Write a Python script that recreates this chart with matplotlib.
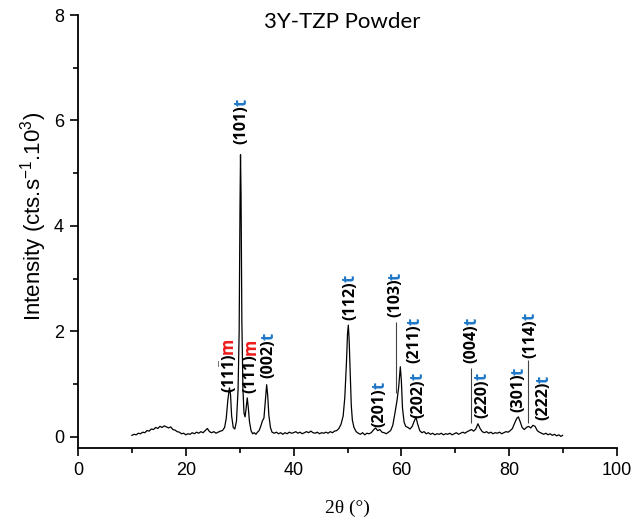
import matplotlib
matplotlib.use("Agg")
import matplotlib.pyplot as plt
from matplotlib.ticker import MultipleLocator

plt.rcParams['mathtext.fontset'] = 'custom'
plt.rcParams['mathtext.rm'] = 'Liberation Sans'
plt.rcParams['mathtext.it'] = 'Liberation Sans:italic'
plt.rcParams['mathtext.bf'] = 'Open Sans:bold'

# ---- data (2theta in degrees, intensity in 10^3 counts/s) ----
two_theta = [
    10.0, 10.4, 10.8, 11.2, 11.6, 12.0, 12.4, 12.8, 13.2, 13.6, 14.0, 14.4, 14.8,
    15.2, 15.6, 16.0, 16.4, 16.8, 17.2, 17.6, 18.0, 18.4, 18.8, 19.2, 19.6, 20.0,
    20.4, 20.8, 21.2, 21.6, 22.0, 22.4, 22.8, 23.2, 23.6, 24.0, 24.4, 24.8, 25.2,
    25.6, 26.0, 26.4, 26.8, 27.2, 27.5, 27.8, 28.1, 28.3, 28.5, 28.8, 29.1, 29.4,
    29.7, 29.9, 30.05, 30.15, 30.25, 30.4, 30.6, 30.8, 31.0, 31.2, 31.4, 31.6,
    31.8, 32.1, 32.4, 32.7, 33.0, 33.3, 33.6, 33.9, 34.2, 34.5, 34.8, 35.0, 35.2,
    35.4, 35.7, 36.0, 36.4, 36.8, 37.2, 37.6, 38.0, 38.4, 38.8, 39.2, 39.6, 40.0,
    40.4, 40.8, 41.2, 41.6, 42.0, 42.4, 42.8, 43.2, 43.6, 44.0, 44.4, 44.8, 45.2,
    45.6, 46.0, 46.4, 46.8, 47.2, 47.6, 48.0, 48.4, 48.8, 49.2, 49.5, 49.8, 50.0,
    50.15, 50.3, 50.5, 50.7, 50.9, 51.2, 51.6, 52.0, 52.4, 52.8, 53.2, 53.6, 54.0,
    54.4, 54.8, 55.2, 55.6, 56.0, 56.4, 56.8, 57.2, 57.6, 58.0, 58.4, 58.8, 59.2,
    59.5, 59.8, 60.0, 60.2, 60.5, 60.8, 61.2, 61.6, 62.0, 62.4, 62.7, 63.0, 63.4,
    63.8, 64.2, 64.6, 65.0, 65.4, 65.8, 66.2, 66.6, 67.0, 67.4, 67.8, 68.2, 68.6,
    69.0, 69.4, 69.8, 70.2, 70.6, 71.0, 71.4, 71.8, 72.2, 72.6, 73.0, 73.4, 73.8,
    74.2, 74.6, 75.0, 75.4, 75.8, 76.2, 76.6, 77.0, 77.4, 77.8, 78.2, 78.6, 79.0,
    79.4, 79.8, 80.2, 80.6, 81.0, 81.4, 81.7, 82.0, 82.4, 82.8, 83.2, 83.6, 84.0,
    84.4, 84.8, 85.2, 85.6, 86.0, 86.4, 86.8, 87.2, 87.6, 88.0, 88.4, 88.8, 89.2,
    89.6, 89.9,
]
intensity = [
    0.03, 0.05, 0.04, 0.07, 0.06, 0.09, 0.08, 0.12, 0.11, 0.15, 0.14, 0.18, 0.16,
    0.20, 0.18, 0.21, 0.19, 0.17, 0.19, 0.14, 0.13, 0.10, 0.09, 0.06, 0.07, 0.04,
    0.06, 0.05, 0.08, 0.06, 0.09, 0.07, 0.10, 0.08, 0.12, 0.16, 0.10, 0.08, 0.10,
    0.07, 0.09, 0.11, 0.12, 0.18, 0.35, 0.70, 0.93, 0.80, 0.40, 0.18, 0.15, 0.30,
    0.90, 2.00, 4.30, 5.35, 4.60, 2.20, 0.90, 0.45, 0.38, 0.55, 0.74, 0.55,
    0.30, 0.12, 0.06, 0.08, 0.05, 0.09, 0.12, 0.20, 0.30, 0.36, 0.75, 0.99, 0.78,
    0.42, 0.18, 0.09, 0.07, 0.09, 0.06, 0.08, 0.05, 0.08, 0.06, 0.09, 0.07, 0.08,
    0.10, 0.07, 0.09, 0.06, 0.08, 0.10, 0.08, 0.11, 0.08, 0.07, 0.09, 0.06, 0.08,
    0.07, 0.09, 0.07, 0.10, 0.08, 0.11, 0.12, 0.16, 0.24, 0.40, 0.75, 1.40, 1.95,
    2.12, 1.85, 1.20, 0.60, 0.32, 0.18, 0.10, 0.07, 0.05, 0.08, 0.04, 0.07, 0.06,
    0.08, 0.13, 0.17, 0.12, 0.14, 0.09, 0.08, 0.06, 0.09, 0.12, 0.22, 0.45, 0.70,
    0.95, 1.33, 1.05, 0.55, 0.28, 0.20, 0.18, 0.15, 0.20, 0.30, 0.38, 0.25, 0.12,
    0.08, 0.10, 0.06, 0.08, 0.05, 0.07, 0.04, 0.06, 0.05, 0.07, 0.04, 0.06, 0.05,
    0.07, 0.04, 0.06, 0.08, 0.05, 0.07, 0.09, 0.07, 0.10, 0.12, 0.14, 0.11, 0.15,
    0.25, 0.16, 0.10, 0.08, 0.10, 0.07, 0.09, 0.06, 0.08, 0.07, 0.09, 0.06, 0.08,
    0.10, 0.09, 0.12, 0.16, 0.26, 0.35, 0.38, 0.30, 0.18, 0.14, 0.18, 0.20, 0.17,
    0.22, 0.20, 0.12, 0.09, 0.07, 0.05, 0.07, 0.04, 0.06, 0.03, 0.05, 0.02, 0.04,
    0.01, 0.03,
]

# reflection labels: text, phase, x centre (deg), y of label bottom
label_texts = [r"$\mathbf{(11\bar{1})}$", "(101)", "(111)", "(002)", "(112)", "(201)",
               "(103)", "(211)", "(202)", "(004)", "(220)", "(301)", "(114)", "(222)"]
label_phase = ["m", "t", "m", "t", "t", "t", "t", "t", "t", "t", "t", "t", "t", "t"]
label_x = [27.5, 29.9, 31.7, 35.0, 50.1, 55.6, 58.6, 62.0, 62.7, 72.7, 74.6, 81.4, 83.5, 86.0]
label_y = [0.83, 5.55, 0.83, 1.12, 2.22, 0.19, 2.27, 1.40, 0.36, 1.40, 0.36, 0.47, 1.50, 0.32]

# guide lines from labels down to peaks: x, y bottom, y top
guide_x = [59.0, 72.9, 83.5]
guide_y0 = [0.83, 0.27, 0.27]
guide_y1 = [2.18, 1.31, 1.46]

phase_colors = {"t": "#1f78c8", "m": "#ee1c1c"}

fig = plt.figure(figsize=(6.33, 5.23), dpi=100)
ax = fig.add_axes([78 / 633, 1 - 448 / 523, 539 / 633, 433 / 523])

ax.plot(two_theta, intensity, color="black", lw=0.9)
ax.vlines(guide_x, guide_y0, guide_y1, color="#444444", lw=0.8)

ax.set_xlim(0, 100)
ax.set_ylim(-0.21, 8)
ax.xaxis.set_major_locator(MultipleLocator(20))
ax.xaxis.set_minor_locator(MultipleLocator(10))
ax.yaxis.set_major_locator(MultipleLocator(2))
ax.yaxis.set_minor_locator(MultipleLocator(1))
for s in ["top", "right"]:
    ax.spines[s].set_visible(False)
for s in ["left", "bottom"]:
    ax.spines[s].set_linewidth(1.3)
ax.tick_params(which="major", direction="out", length=6, width=1.2, pad=4,
               labelsize=13)
ax.tick_params(which="minor", direction="out", length=3.5, width=1.2)
for t in ax.get_xticklabels() + ax.get_yticklabels():
    t.set_fontfamily("Liberation Sans")

ax.set_ylabel("Intensity (cts.s$^{-1}$.10$^{3}$)", family="Liberation Sans", size=16)
ax.yaxis.label.set_va("center")
ax.yaxis.set_label_coords(-0.083, 0.535)
ax.set_xlabel("2θ (°)", family="Liberation Serif", size=14)
ax.xaxis.label.set_va("center")
ax.xaxis.set_label_coords(0.499, -0.139)

fig.text(342 / 633, 1 - 22 / 523, "3Y-TZP Powder", ha="center", va="center",
         family="Lato", size=16)

# reflection labels
lab_objs = []
for txt, xx, yy in zip(label_texts, label_x, label_y):
    o = ax.text(xx, yy, txt, rotation=90, rotation_mode="anchor", ha="left",
                va="center_baseline", family="Open Sans", weight="bold", size=11.5)
    lab_objs.append(o)

fig.canvas.draw()
r = fig.canvas.get_renderer()
inv = ax.transData.inverted()
for o, ph, xx in zip(lab_objs, label_phase, label_x):
    bb = o.get_window_extent(r)
    ytop = inv.transform((bb.x0, bb.y1 - 1))[1]
    ax.text(xx, ytop, ph, rotation=90, rotation_mode="anchor", ha="left",
            va="center_baseline", family="Open Sans", weight="bold", size=12,
            color=phase_colors[ph])

fig.savefig("out.png", dpi=100)
